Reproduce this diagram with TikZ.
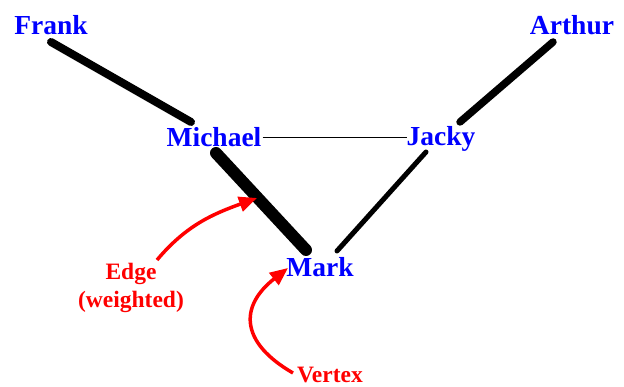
\documentclass[tikz,border=0pt]{standalone}
\usepackage{fontspec}
\setmainfont{Liberation Serif}
\usetikzlibrary{arrows.meta}
\begin{document}
\begin{tikzpicture}[x=1pt,y=1pt,
  person/.style={font=\fontsize{27.5}{30}\selectfont\bfseries, text=blue, inner sep=0pt, anchor=base},
  note/.style={font=\fontsize{23.5}{26}\selectfont\bfseries, text=red, inner sep=0pt, anchor=base},
  link/.style={draw=black, line cap=round},
  pointer/.style={draw=red, line width=3.5pt, -{Triangle[length=18pt,width=15pt]}}]
\useasboundingbox (0,0) rectangle (624,387);
\node[person] (frank) at (51,352) {Frank};
\node[person] (arthur) at (572,352) {Arthur};
\node[person] (michael) at (214,240) {Michael};
\node[person] (jacky) at (441,241) {Jacky};
\node[person] (mark) at (320,110) {Mark};
\node[note] (edgelbl) at (131,107) {Edge};
\node[note] (weightlbl) at (131,79) {(weighted)};
\node[note] (vertex) at (330,4) {Vertex};
\draw[link, line width=8pt] ([shift={(0,-7)}]frank.base) -- ([shift={(-23,25)}]michael.base);
\draw[link, line width=1.8pt, line cap=butt] ([xshift=1pt]michael.east) -- ([xshift=1pt]michael.east -| jacky.west);
\draw[link, line width=12pt] ([shift={(2,-6)}]michael.base) -- ([shift={(-14,27)}]mark.base);
\draw[link, line width=7.5pt] ([shift={(19,24)}]jacky.base) -- ([shift={(-19,-7)}]arthur.base);
\draw[link, line width=5pt] ([shift={(-15,-6)}]jacky.base) -- ([shift={(17,26)}]mark.base);
\coordinate (edgetip) at (257,189);
\draw[pointer] ([shift={(26,20)}]edgelbl.base) to[out=50,in=200] (edgetip);
\draw[pointer] ([shift={(-37,10)}]vertex.base) to[out=150,in=218,looseness=1.5] ([shift={(-32,9)}]mark.base);
\end{tikzpicture}
\end{document}
